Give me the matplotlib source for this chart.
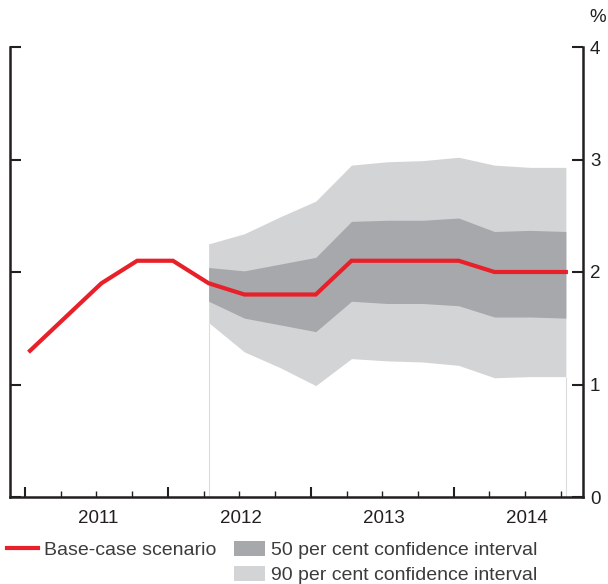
import matplotlib.pyplot as plt
import numpy as np
from matplotlib.lines import Line2D
from matplotlib.patches import Patch

# quarterly series, 2011 Q1 to 2014 Q4
base_case = [1.3, 1.6, 1.9, 2.1, 2.1, 1.9, 1.8, 1.8, 1.8, 2.1, 2.1, 2.1, 2.1, 2.0, 2.0, 2.0]

# confidence bands from 2012 Q2 onwards
fan_start = 5
upper_90 = [2.25, 2.34, 2.49, 2.63, 2.95, 2.98, 2.99, 3.02, 2.95, 2.93, 2.93]
upper_50 = [2.04, 2.01, 2.07, 2.13, 2.45, 2.46, 2.46, 2.48, 2.36, 2.37, 2.36]
lower_50 = [1.74, 1.59, 1.53, 1.47, 1.74, 1.72, 1.72, 1.70, 1.60, 1.60, 1.59]
lower_90 = [1.55, 1.29, 1.15, 0.99, 1.23, 1.21, 1.20, 1.17, 1.06, 1.07, 1.07]

years = ["2011", "2012", "2013", "2014"]

RED = "#e8202a"
DARK = "#a7a8ab"
LIGHT = "#d3d4d6"
INK = "#231f20"

plt.rcParams["font.family"] = ["Liberation Sans", "DejaVu Sans"]

fig = plt.figure(figsize=(6.08, 5.84), dpi=100)
ax = fig.add_axes([10 / 608, 1 - 497 / 584, 573 / 608, 450 / 584])

# points sit a little after the start of each quarter
offset = 0.14
x = np.arange(len(base_case)) + offset
xf = x[fan_start:]

ax.fill_between(xf, lower_90, upper_90, color=LIGHT, lw=0)
ax.fill_between(xf, lower_50, upper_50, color=DARK, lw=0)
ax.vlines([xf[0], xf[-1]], 0, [lower_90[0], lower_90[-1]], color="#dcdcdc", lw=0.8)
ax.plot(x, base_case, color=RED, lw=3, solid_joinstyle="miter", zorder=3)

ax.set_xlim(-0.42, 15.62)
ax.set_ylim(0, 4)

ax.set_xticks(np.arange(0, 16, 4))
ax.set_xticks(np.arange(0, 16), minor=True)
ax.set_xticklabels([])
for i, yr in enumerate(years):
    ax.text(4 * i + 2.05, -0.115, yr, ha="center", va="top", fontsize=13.5, color=INK)

ax.set_yticks(np.arange(0, 5))
ax.yaxis.set_ticks_position("both")
ax.tick_params(axis="y", direction="in", length=8, width=1.5, color=INK,
               labelleft=False, labelright=True, labelsize=13.5, labelcolor=INK, pad=5)
ax.tick_params(axis="x", which="major", direction="in", length=7, width=1.5, color=INK)
ax.tick_params(axis="x", which="minor", direction="in", length=4, width=1, color=INK)

ax.spines["top"].set_visible(False)
for side in ["left", "right", "bottom"]:
    ax.spines[side].set_linewidth(1.8)
    ax.spines[side].set_color(INK)

fig.text(598 / 608, 1 - 17 / 584, "%", ha="center", va="center", fontsize=13.5, color=INK)

handles = [
    Line2D([], [], color=RED, lw=3),
    Patch(alpha=0),
    Patch(color=DARK, lw=0),
    Patch(color=LIGHT, lw=0),
]
labels = ["Base-case scenario", "", "50 per cent confidence interval",
          "90 per cent confidence interval"]
fig.legend(handles, labels, loc="upper left", bbox_to_anchor=(7 / 608, 1 - 541 / 584),
           ncol=2, frameon=False, fontsize=14, labelcolor="#3c3c3c",
           handlelength=1.6, handleheight=0.82, handletextpad=0.3,
           columnspacing=0.9, labelspacing=0.32, borderpad=0, borderaxespad=0)

fig.savefig("out.png", dpi=100)
